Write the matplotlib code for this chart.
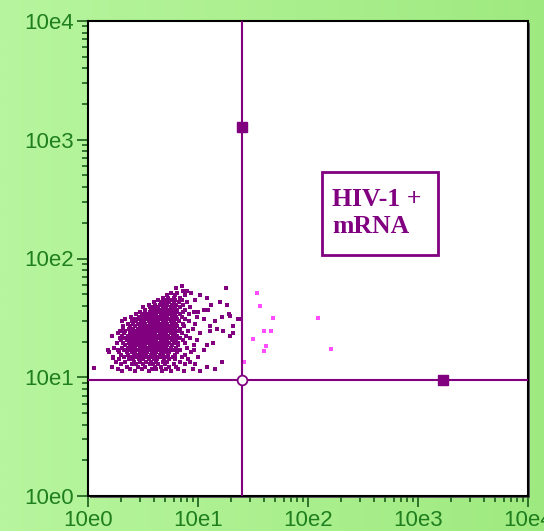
import numpy as np
import matplotlib
matplotlib.use("Agg")
import matplotlib.pyplot as plt
from matplotlib.colors import LinearSegmentedColormap
from matplotlib.patches import Rectangle
from matplotlib.ticker import FixedLocator, NullFormatter

# ----------------------------
# Data (log10 positions of the events)
# ----------------------------
row_y_log = [1.05, 1.07, 1.09, 1.11, 1.13, 1.15, 1.17, 1.19, 1.21, 1.23,
             1.25, 1.27, 1.29, 1.31, 1.33, 1.35, 1.37, 1.39, 1.41, 1.43,
             1.45, 1.47, 1.49, 1.51, 1.53, 1.55, 1.57, 1.59, 1.61, 1.63,
             1.65, 1.67, 1.69, 1.71, 1.73, 1.75, 1.77]
row_x_log = [
    [0.31, 0.43, 0.55, 0.67, 0.75, 0.87, 1.02],
    [0.27, 0.38, 0.49, 0.58, 0.62, 0.71, 0.82, 0.95, 1.15],
    [0.22, 0.35, 0.45, 0.52, 0.61, 0.66, 0.74, 0.80, 1.08],
    [0.30, 0.40, 0.44, 0.50, 0.56, 0.59, 0.64, 0.70, 0.78, 0.88, 0.97],
    [0.25, 0.34, 0.42, 0.47, 0.53, 0.57, 0.62, 0.68, 0.72, 0.84, 0.93, 1.22],
    [0.28, 0.37, 0.41, 0.46, 0.50, 0.55, 0.60, 0.63, 0.69, 0.74, 0.79, 0.91],
    [0.23, 0.33, 0.39, 0.44, 0.48, 0.52, 0.56, 0.59, 0.64, 0.67, 0.71, 0.77, 0.85, 1.00],
    [0.30, 0.36, 0.42, 0.45, 0.49, 0.53, 0.57, 0.61, 0.65, 0.68, 0.73, 0.79, 0.88],
    [0.19, 0.28, 0.35, 0.40, 0.43, 0.47, 0.50, 0.54, 0.58, 0.62, 0.66, 0.70, 0.74, 0.81, 0.94],
    [0.27, 0.33, 0.38, 0.41, 0.45, 0.48, 0.52, 0.55, 0.59, 0.63, 0.66, 0.69, 0.72, 0.77, 0.84, 0.96, 1.05],
    [0.24, 0.31, 0.36, 0.40, 0.43, 0.47, 0.51, 0.54, 0.57, 0.60, 0.64, 0.67, 0.71, 0.75, 0.80, 0.90],
    [0.34, 0.38, 0.42, 0.45, 0.49, 0.52, 0.56, 0.59, 0.62, 0.65, 0.68, 0.72, 0.76, 0.82, 0.96, 1.08],
    [0.26, 0.32, 0.37, 0.40, 0.44, 0.47, 0.51, 0.54, 0.57, 0.61, 0.64, 0.67, 0.70, 0.74, 0.78, 0.82, 0.88, 1.14],
    [0.30, 0.35, 0.39, 0.43, 0.46, 0.49, 0.53, 0.56, 0.59, 0.62, 0.66, 0.69, 0.72, 0.76, 0.80, 0.86, 0.99],
    [0.29, 0.34, 0.38, 0.41, 0.45, 0.48, 0.51, 0.55, 0.58, 0.61, 0.64, 0.67, 0.71, 0.74, 0.78, 0.84, 0.93],
    [0.22, 0.31, 0.36, 0.40, 0.43, 0.46, 0.50, 0.53, 0.56, 0.60, 0.63, 0.66, 0.69, 0.73, 0.77, 0.81, 0.89, 1.29],
    [0.27, 0.33, 0.38, 0.42, 0.45, 0.48, 0.52, 0.55, 0.58, 0.61, 0.65, 0.68, 0.71, 0.75, 0.79, 0.85, 1.02],
    [0.29, 0.34, 0.39, 0.44, 0.47, 0.50, 0.54, 0.57, 0.60, 0.63, 0.66, 0.70, 0.73, 0.77, 0.82, 0.91, 1.11, 1.23],
    [0.32, 0.37, 0.41, 0.45, 0.49, 0.52, 0.55, 0.59, 0.62, 0.65, 0.68, 0.72, 0.75, 0.79, 0.84, 0.95, 1.17],
    [0.32, 0.38, 0.43, 0.47, 0.50, 0.54, 0.57, 0.60, 0.64, 0.67, 0.70, 0.74, 0.77, 0.81, 0.87, 1.11, 1.32],
    [0.36, 0.41, 0.45, 0.49, 0.52, 0.56, 0.59, 0.62, 0.65, 0.69, 0.72, 0.76, 0.80, 0.86, 0.97],
    [0.31, 0.40, 0.44, 0.48, 0.51, 0.55, 0.58, 0.61, 0.64, 0.68, 0.71, 0.75, 0.78, 0.83, 0.92, 1.15],
    [0.34, 0.43, 0.47, 0.51, 0.54, 0.57, 0.60, 0.63, 0.67, 0.70, 0.73, 0.77, 0.81, 0.88, 1.05, 1.37],
    [0.39, 0.46, 0.50, 0.53, 0.56, 0.60, 0.63, 0.66, 0.69, 0.72, 0.76, 0.80, 0.85, 0.99, 1.22],
    [0.44, 0.49, 0.53, 0.56, 0.59, 0.62, 0.66, 0.69, 0.72, 0.75, 0.79, 0.84, 0.92, 1.28],
    [0.47, 0.52, 0.56, 0.59, 0.63, 0.66, 0.69, 0.72, 0.76, 0.80, 0.86, 0.96, 1.00],
    [0.52, 0.57, 0.61, 0.64, 0.67, 0.70, 0.74, 0.77, 0.81, 0.88, 1.05, 1.09],
    [0.50, 0.56, 0.60, 0.64, 0.68, 0.71, 0.75, 0.79, 0.84, 0.93],
    [0.55, 0.61, 0.65, 0.69, 0.72, 0.76, 0.80, 0.86, 1.12, 1.26],
    [0.60, 0.66, 0.70, 0.74, 0.78, 0.83, 0.90, 1.20],
    [0.64, 0.70, 0.75, 0.79, 0.85, 0.97],
    [0.68, 0.73, 0.78, 0.84, 1.08],
    [0.72, 0.79, 0.88, 1.02],
    [0.75, 0.81, 0.94],
    [0.86, 0.90],
    [0.80, 1.25],
    [0.85],
]

# a few stray events at the edges of the cluster
stray_x_log = [0.05, 0.18, 0.23, 1.29, 1.36, 1.32, 1.32, 1.29]
stray_y_log = [1.08, 1.23, 1.16, 1.52, 1.49, 1.43, 1.37, 1.35]

# events on the right side of the vertical gate (drawn in magenta)
pos_x_log = [1.54, 1.56, 1.68, 2.09, 1.60, 1.66, 1.50, 1.62, 1.60, 2.21, 1.42]
pos_y_log = [1.71, 1.60, 1.50, 1.50, 1.39, 1.39, 1.32, 1.26, 1.22, 1.24, 1.13]

# quadrant gate
gate_x = 25
gate_y = 9.4
handle_top_y = 1275
handle_right_x = 1690

decades = [1, 10, 100, 1000, 10000]
tick_labels = ["10e0", "10e1", "10e2", "10e3", "10e4"]

# ----------------------------
# Colours
# ----------------------------
purple = "#800080"
magenta = "#ff4dff"
label_green = "#1f7f1f"
tick_green = "#1a5e1a"

# ----------------------------
# Figure
# ----------------------------
fig = plt.figure(figsize=(5.44, 5.31), dpi=100)

# green background with a soft horizontal gradient
bg = fig.add_axes([0, 0, 1, 1], zorder=-10)
cmap = LinearSegmentedColormap.from_list("bg", ["#b7f59e", "#9fea80"])
bg.imshow(np.linspace(0, 1, 256)[None, :], cmap=cmap, aspect="auto",
          extent=[0, 1, 0, 1])
bg.axis("off")

left, bottom, width, height = 88 / 544, 35 / 531, 440 / 544, 475 / 531

# drop shadow of the plot frame
fig.add_artist(Rectangle((left + 2 / 544, bottom - 2 / 531), width, height,
                         transform=fig.transFigure, facecolor="#606060",
                         edgecolor="none", zorder=0.5))

ax = fig.add_axes([left, bottom, width, height], zorder=1)
ax.set_facecolor("white")

# flatten the cluster rows
xs, ys = [], []
for yl, xl in zip(row_y_log, row_x_log):
    xs.extend(xl)
    ys.extend([yl] * len(xl))
xs.extend(stray_x_log)
ys.extend(stray_y_log)

ax.scatter(10 ** np.array(xs), 10 ** np.array(ys), s=5.5, marker="s",
           color=purple, linewidths=0, zorder=2)
ax.scatter(10 ** np.array(pos_x_log), 10 ** np.array(pos_y_log), s=5.5,
           marker="s", color=magenta, linewidths=0, zorder=2)

# gate lines and handles
ax.axvline(gate_x, color=purple, lw=1.5, zorder=3)
ax.axhline(gate_y, color=purple, lw=1.5, zorder=3)
ax.plot([gate_x], [handle_top_y], "s", ms=7, color=purple, zorder=4)
ax.plot([handle_right_x], [gate_y], "s", ms=7, color=purple, zorder=4)
ax.plot([gate_x], [gate_y], "o", ms=7, mfc="white", mec=purple, mew=1.3,
        zorder=5)

# label box
ax.add_patch(Rectangle((0.532, 0.507), 0.264, 0.175, transform=ax.transAxes,
                       fill=False, edgecolor=purple, lw=2, zorder=4))
ax.text(0.555, 0.596, "HIV-1 +\nmRNA", transform=ax.transAxes,
        ha="left", va="center", fontsize=18.5, fontweight="bold",
        family="Liberation Serif", color=purple, zorder=5)

# axes
ax.set_xscale("log")
ax.set_yscale("log")
ax.set_xlim(1, 10000)
ax.set_ylim(1, 10000)
for axis in (ax.xaxis, ax.yaxis):
    axis.set_major_locator(FixedLocator(decades))
    axis.set_minor_locator(FixedLocator(
        [d * m for d in decades[:-1] for m in range(2, 10)]))
    axis.set_minor_formatter(NullFormatter())
ax.set_xticklabels(tick_labels)
ax.set_yticklabels(tick_labels)

for lab in ax.get_xticklabels() + ax.get_yticklabels():
    lab.set_family("Liberation Sans")
    lab.set_fontsize(16)
    lab.set_color(label_green)

ax.tick_params(which="major", direction="out", length=8, width=1.2,
               color=tick_green, pad=2)
ax.tick_params(which="minor", direction="out", length=4, width=1.2,
               color=tick_green)

for sp in ax.spines.values():
    sp.set_color("black")
    sp.set_linewidth(1.5)

fig.savefig("out.png", dpi=100)
